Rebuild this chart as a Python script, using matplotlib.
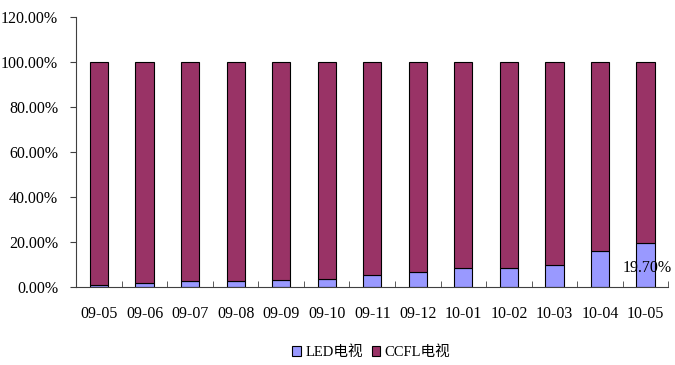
import numpy as np
import matplotlib.pyplot as plt
from matplotlib.ticker import FixedLocator

plt.rcParams['font.family'] = ['Liberation Serif', 'Noto Sans CJK SC']

months = ['09-05', '09-06', '09-07', '09-08', '09-09', '09-10', '09-11',
          '09-12', '10-01', '10-02', '10-03', '10-04', '10-05']
led = [0.9, 1.8, 2.4, 2.4, 2.9, 3.5, 5.5, 6.7, 8.4, 8.4, 9.8, 16.1, 19.7]
ccfl = [100 - v for v in led]

fig = plt.figure(figsize=(6.75, 3.65), dpi=100)
ax = fig.add_axes([0.113, 0.214, 0.877, 0.739])

x = np.arange(len(months))
ax.bar(x, led, width=0.4, color='#9999FF', edgecolor='black', linewidth=0.8, label='LED电视')
ax.bar(x, ccfl, width=0.4, bottom=led, color='#993366', edgecolor='black', linewidth=0.8, label='CCFL电视')

ax.set_xlim(-0.5, len(months) - 0.5)
ax.set_ylim(0, 120)
ax.set_yticks(np.arange(0, 121, 20))
ax.set_yticklabels(['%.2f%%' % v for v in np.arange(0, 121, 20)], fontsize=11.5)
ax.set_xticks(x)
ax.set_xticklabels(months, fontsize=11.5)
ax.tick_params(axis='x', length=0, pad=14)
ax.xaxis.set_minor_locator(FixedLocator(np.arange(-0.5, len(months), 1)))
ax.tick_params(axis='x', which='minor', direction='in', length=4, color='#404040')
ax.tick_params(axis='y', direction='out', length=4, pad=9, color='#404040')

for s in ['top', 'right']:
    ax.spines[s].set_visible(False)
for s in ['left', 'bottom']:
    ax.spines[s].set_color('#404040')

ax.text(x[-1] - 0.5, 8.5, '%.2f%%' % led[-1], fontsize=11.5, ha='left', va='center')

fig.legend(loc='lower center', bbox_to_anchor=(0.55, -0.02), ncol=2, frameon=False,
           handlelength=0.6, handleheight=0.6, handletextpad=0.3,
           columnspacing=0.6, prop={'family': ['Liberation Serif', 'Noto Sans CJK SC'], 'size': 10.5})

fig.savefig('out.png', dpi=100)
